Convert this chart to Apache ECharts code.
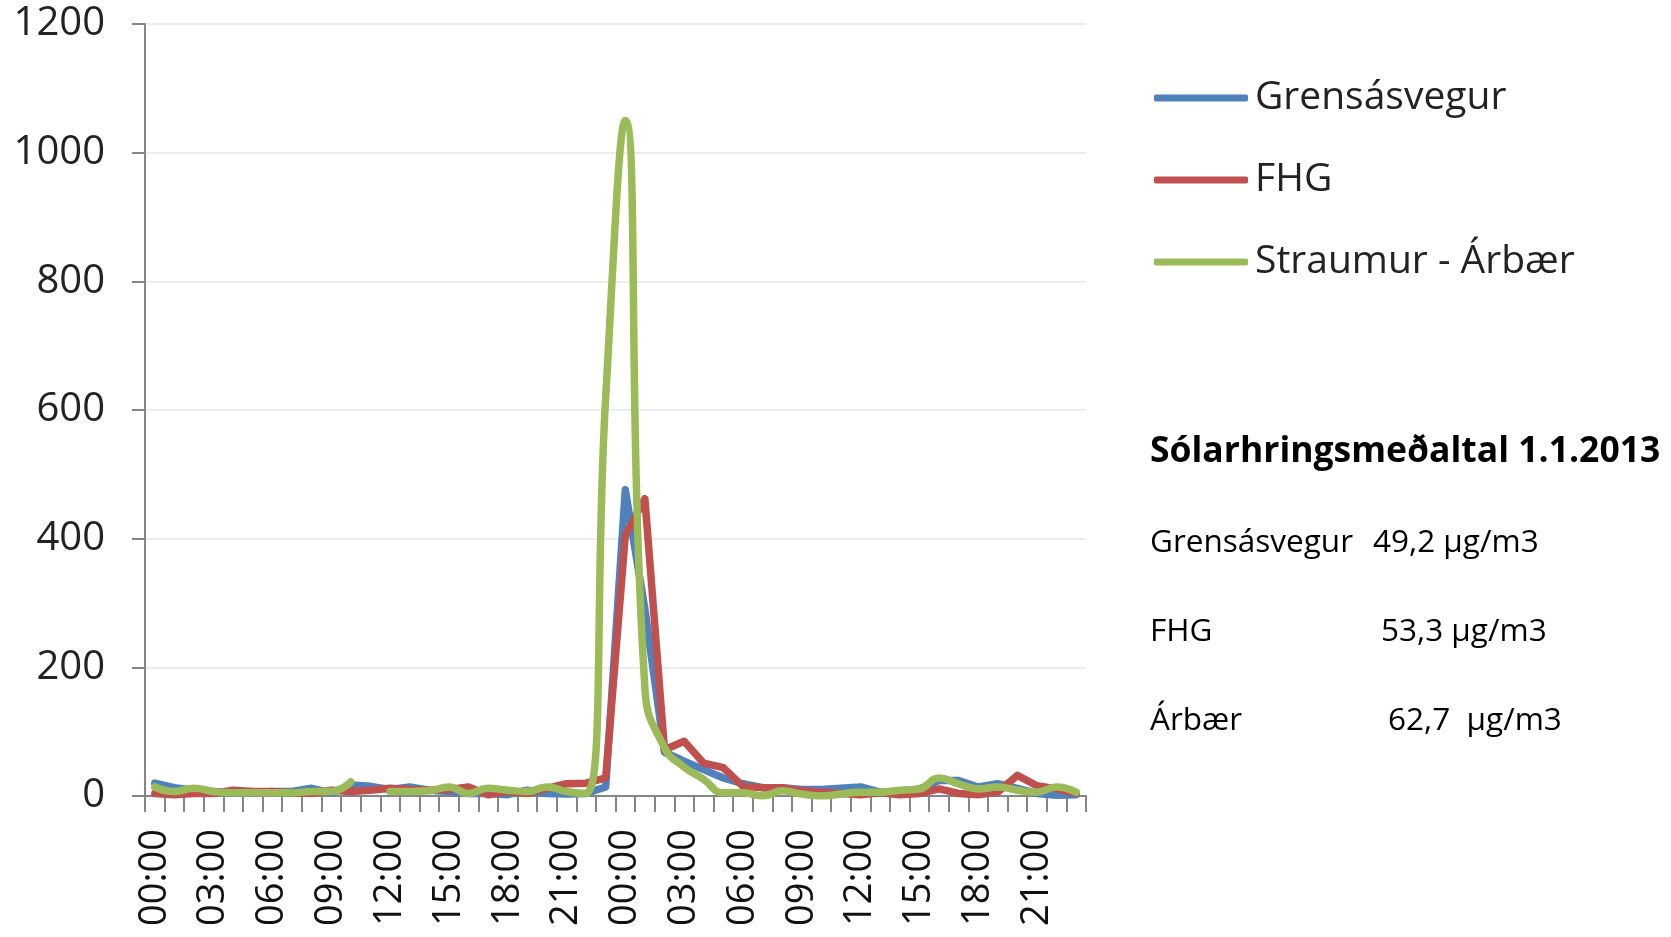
<!DOCTYPE html>
<html>
<head>
<meta charset="utf-8">
<script src="https://cdn.jsdelivr.net/npm/echarts@6/dist/echarts.min.js"></script>
<style>
html,body{margin:0;padding:0;background:#fff;}
#chart{width:1671px;height:937px;}
</style>
</head>
<body>
<div id="chart"></div>
<script>
const categories = [
  "00:00","01:00","02:00","03:00","04:00","05:00","06:00","07:00","08:00","09:00","10:00","11:00",
  "12:00","13:00","14:00","15:00","16:00","17:00","18:00","19:00","20:00","21:00","22:00","23:00",
  "00:00","01:00","02:00","03:00","04:00","05:00","06:00","07:00","08:00","09:00","10:00","11:00",
  "12:00","13:00","14:00","15:00","16:00","17:00","18:00","19:00","20:00","21:00","22:00","23:00"
];
const grensasvegur = [
  20,13,9,7,5,5,7,7,12,5,17,15,10,14,9,7,4,4,2,9,4,3,4,14,
  476,290,68,54,41,28,19,13,13,10,10,12,14,6,7,11,24,24,14,19,12,4,1,2
];
const fhg = [
  4,2,4,4,9,7,7,5,4,9,7,9,12,10,9,10,14,2,7,4,12,19,20,28,
  405,462,72,85,51,44,15,13,13,8,6,4,2,5,2,4,11,4,2,6,32,16,11,4
];
const straumur = [
  14,7,12,7,5,5,5,5,7,7,22,null,7,7,8,14,4,12,9,7,14,7,4,620,
  1050,168,75,45,26,5,5,0,8,3,0,3,6,6,9,11,28,19,11,14,9,6,14,6
];
const seriesNames = ["Grensásvegur","FHG","Straumur - Árbær"];
const yTicks = {min:0, max:1200, interval:200};
const statsTitle = "Sólarhringsmeðaltal 1.1.2013";
const statsNames = ["Grensásvegur","FHG","Árbær"];
const statsValues = ["49,2 µg/m3","53,3 µg/m3","62,7  µg/m3"];

const FONT = '"Open Sans", "Noto Sans", sans-serif';
const colors = ["#4F81BD","#C0504D","#9BBB59"];

const chart = echarts.init(document.getElementById('chart'), null, {renderer:'canvas'});
chart.setOption({
  animation:false,
  backgroundColor:'#ffffff',
  color: colors,
  grid:{left:145, top:24, right:585, bottom:141, containLabel:false},
  legend:{
    orient:'vertical',
    left:1149, top:70,
    icon:'roundRect',
    itemWidth:94, itemHeight:7,
    itemGap:36,
    textStyle:{fontFamily:FONT, fontSize:39, color:'#222', lineHeight:46, padding:[0,0,0,2]},
    data: seriesNames
  },
  xAxis:{
    type:'category',
    data: categories,
    boundaryGap:true,
    axisLine:{lineStyle:{color:'#868686', width:2}},
    axisTick:{show:true, interval:0, length:16, lineStyle:{color:'#868686', width:2}},
    axisLabel:{interval:2, rotate:90, margin:33, fontFamily:FONT, fontSize:38, color:'#111'},
    splitLine:{show:false}
  },
  yAxis:{
    type:'value',
    min:yTicks.min, max:yTicks.max, interval:yTicks.interval,
    axisLine:{show:true, lineStyle:{color:'#868686', width:2}},
    axisTick:{show:true, length:13, lineStyle:{color:'#868686', width:2}},
    axisLabel:{margin:40, fontFamily:FONT, fontSize:40, color:'#222', formatter:function(v){return String(v);}},
    splitLine:{show:true, lineStyle:{color:'#ececec', width:2}}
  },
  series:[
    {name:seriesNames[0], type:'line', data:grensasvegur, symbol:'none', smooth:false,
     lineStyle:{width:7.5, color:colors[0], cap:'round', join:'round'}},
    {name:seriesNames[1], type:'line', data:fhg, symbol:'none', smooth:false,
     lineStyle:{width:7.5, color:colors[1], cap:'round', join:'round'}},
    {name:seriesNames[2], type:'line', data:straumur, symbol:'none', smooth:0.5, connectNulls:false,
     lineStyle:{width:7.5, color:colors[2], cap:'round', join:'round'}}
  ],
  graphic:[
    {type:'text', left:1150, top:434, style:{text:statsTitle, fontFamily:FONT, fontSize:35.5, fontWeight:'bold', fill:'#000'}},
    {type:'text', left:1150, top:527, style:{text:statsNames[0], fontFamily:FONT, fontSize:31.5, fill:'#000'}},
    {type:'text', left:1373, top:527, style:{text:statsValues[0], fontFamily:FONT, fontSize:31.5, fill:'#000'}},
    {type:'text', left:1150, top:616, style:{text:statsNames[1], fontFamily:FONT, fontSize:31.5, fill:'#000'}},
    {type:'text', left:1381, top:616, style:{text:statsValues[1], fontFamily:FONT, fontSize:31.5, fill:'#000'}},
    {type:'text', left:1150, top:705, style:{text:statsNames[2], fontFamily:FONT, fontSize:31.5, fill:'#000'}},
    {type:'text', left:1388, top:705, style:{text:statsValues[2], fontFamily:FONT, fontSize:31.5, fill:'#000'}}
  ]
});
</script>
</body>
</html>
